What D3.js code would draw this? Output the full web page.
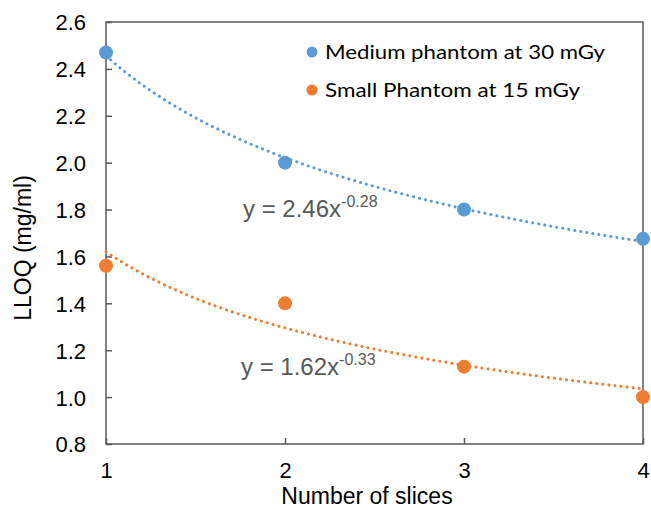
<!DOCTYPE html>
<meta charset="utf-8">
<style>
body{margin:0;background:#fff;}
svg text{font-family:"Liberation Sans",Arial,sans-serif;fill:#000;}
svg .tick text{font-size:22px;}
svg .legend text{font-family:Lato,"Open Sans",sans-serif;}
svg text.eq{fill:#595959;}
</style>
<body>
<script src="https://d3js.org/d3.v7.min.js"></script>
<script>
// values
var slices = [1, 2, 3, 4];
var medium = [2.47, 2.0, 1.80, 1.675];
var small  = [1.56, 1.40, 1.13, 1.0];
var yTicks = [0.8, 1.0, 1.2, 1.4, 1.6, 1.8, 2.0, 2.2, 2.4, 2.6];
var seriesNames = ["Medium phantom at 30 mGy", "Small Phantom at 15 mGy"];
var eqBase = ["2.46", "1.62"];
var eqExp = ["-0.28", "-0.33"];

var W = 651, H = 510;
var m = {l:106, r:8, t:22, b:66};

var svg = d3.select("body").append("svg").attr("width", W).attr("height", H);

var x = d3.scaleLinear().domain([1, 4]).range([m.l, W - m.r]);
var y = d3.scaleLinear().domain([0.8, 2.6]).range([H - m.b, m.t]);

var colors = ["#5B9BD5", "#ED7D31"];
var series = [medium, small];

// power fit in log-log space, like excel's trendline
function powerFit(xs, ys){
  var lx = xs.map(Math.log), ly = ys.map(Math.log);
  var mx = d3.mean(lx), my = d3.mean(ly);
  var sxy = d3.sum(lx, (v,i)=>(v-mx)*(ly[i]-my));
  var sxx = d3.sum(lx, v=>(v-mx)*(v-mx));
  var b = sxy/sxx;
  return {a:Math.exp(my - b*mx), b:b};
}

// frame
svg.append("rect").attr("x", m.l).attr("y", m.t)
  .attr("width", W - m.r - m.l).attr("height", H - m.b - m.t)
  .attr("fill", "none").attr("stroke", "#595959").attr("stroke-width", 1.5);

// y axis, ticks pointing inward
var yAx = svg.append("g").attr("transform", "translate(" + m.l + ",0)")
  .call(d3.axisRight(y).tickValues(yTicks).tickSize(6).tickFormat(d3.format(".1f")));
yAx.select(".domain").remove();
yAx.selectAll("line").attr("stroke", "#595959").attr("stroke-width", 1.5);
yAx.selectAll("text").attr("x", -20).attr("text-anchor", "end").attr("dy", "0.36em");

var xAx = svg.append("g").attr("transform", "translate(0," + (H - m.b) + ")")
  .call(d3.axisTop(x).tickValues(slices).tickSize(6).tickFormat(d3.format("d")));
xAx.select(".domain").remove();
xAx.selectAll("line").attr("stroke", "#595959").attr("stroke-width", 1.5);
xAx.selectAll("text").attr("y", 34).attr("dy", 0);
svg.selectAll(".tick text").attr("fill", "#000");

// axis titles
svg.append("text").attr("transform", "translate(31,248) rotate(-90)")
  .attr("text-anchor", "middle").style("font-size", "23px").text("LLOQ (mg/ml)");
svg.append("text").attr("x", 367).attr("y", 504)
  .attr("text-anchor", "middle").style("font-size", "23px").text("Number of slices");

// trend lines
var xs = d3.range(1, 4.001, 0.05);
series.forEach(function(s, i){
  var f = powerFit(slices, s);
  svg.append("path")
    .datum(xs)
    .attr("d", d3.line().x(d=>x(d)).y(d=>y(f.a*Math.pow(d, f.b))))
    .attr("fill", "none").attr("stroke", colors[i]).attr("stroke-width", 3)
    .attr("stroke-dasharray", "0.1,6").attr("stroke-linecap", "round");
});

// points
series.forEach(function(s, i){
  svg.append("g").selectAll("circle").data(s).join("circle")
    .attr("cx", (d,j)=>x(slices[j])).attr("cy", d=>y(d)).attr("r", 7)
    .attr("fill", colors[i]);
});

// equations
var eqPos = [[243, 217], [241, 375]];
eqBase.forEach(function(b, i){
  var t = svg.append("text").attr("class", "eq").attr("x", eqPos[i][0]).attr("y", eqPos[i][1])
    .style("font-size", "24px");
  t.append("tspan").text("y = " + b + "x");
  t.append("tspan").attr("dy", -10).style("font-size", "16px").text(eqExp[i]);
});

// legend
var lg = svg.append("g").attr("class", "legend");
var lgWidth = [280, 255];
seriesNames.forEach(function(n, i){
  var yy = 52 + i*38;
  lg.append("circle").attr("cx", 312).attr("cy", yy).attr("r", 5.5).attr("fill", colors[i]);
  lg.append("text").attr("x", 325).attr("y", yy).attr("dy", "0.36em")
    .style("font-size", "20px").attr("textLength", lgWidth[i]).attr("lengthAdjust", "spacingAndGlyphs")
    .text(n);
});
</script>
</body>
